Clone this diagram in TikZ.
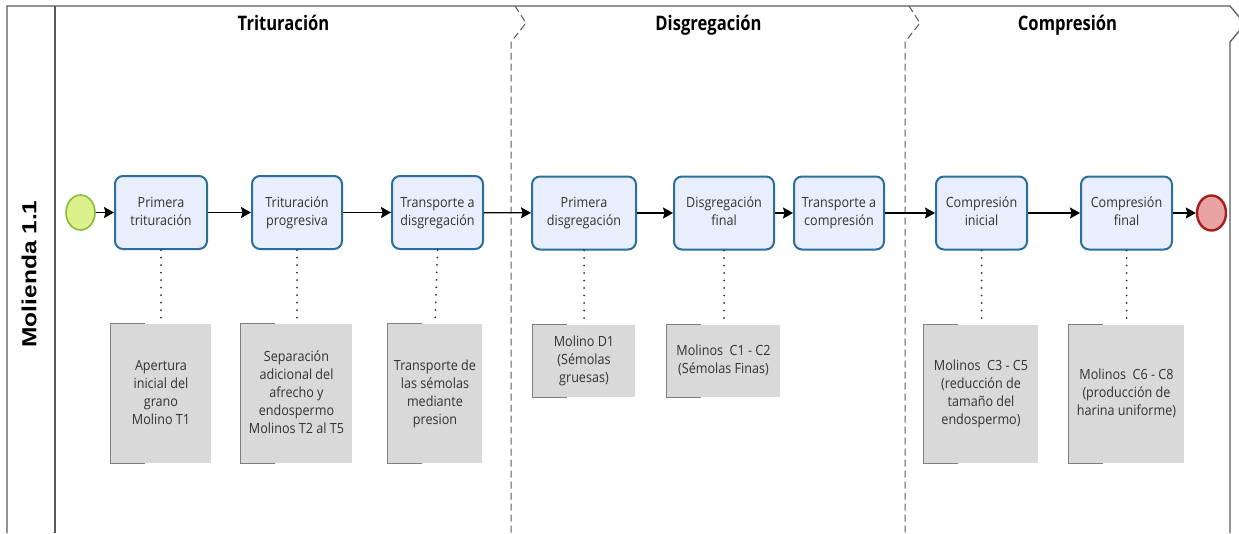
\documentclass[tikz,border=0pt]{standalone}
\usepackage{fontspec}
\usepackage{graphicx}
\setmainfont{Open Sans}
\newfontfamily\lanefont{Liberation Sans}
\usetikzlibrary{arrows.meta,shapes.geometric}

\definecolor{laneline}{HTML}{595959}
\definecolor{taskdraw}{HTML}{2A6E9C}
\definecolor{taskfill}{HTML}{E8EEFB}
\definecolor{annfill}{HTML}{D9D9D9}
\definecolor{annedge}{HTML}{7F7F7F}
\definecolor{startfill}{HTML}{DCF08C}
\definecolor{startdraw}{HTML}{84BD3E}
\definecolor{endfill}{HTML}{EAA3A3}
\definecolor{enddraw}{HTML}{A51D1D}
\definecolor{bodytext}{HTML}{333333}
\definecolor{dotcol}{HTML}{303030}

% condensed, centred multi-line labels
\newcommand\sq[1]{\scalebox{0.9}[1]{\begin{tabular}{@{}c@{}}#1\end{tabular}}}
\newcommand\hd[1]{\scalebox{0.83}[1]{#1}}

\tikzset{
  lanerule/.style={draw=laneline, line width=1.3pt},
  phaserule/.style={draw=laneline, line width=1pt, dash pattern=on 7pt off 4pt},
  task/.style={rectangle, rounded corners=8pt, draw=taskdraw, line width=2pt,
    fill=taskfill, minimum height=73pt, inner sep=0pt, text=bodytext,
    font=\fontsize{14}{18}\selectfont},
  note/.style={rectangle, fill=annfill, inner sep=0pt, text=bodytext,
    font=\fontsize{14}{18}\selectfont},
  phase/.style={font=\fontsize{20}{24}\selectfont\bfseries, text=black, anchor=base},
  flow/.style={draw=black, line width=1.3pt, -{Stealth[length=10pt,width=11pt,inset=1.5pt]}},
  assoc/.style={draw=dotcol, line width=2pt, line cap=round, dash pattern=on 0pt off 7.5pt},
  startev/.style={ellipse, draw=startdraw, fill=startfill, line width=1.6pt,
    minimum width=29pt, minimum height=35pt, inner sep=0pt},
  endev/.style={ellipse, draw=enddraw, fill=endfill, line width=2.4pt,
    minimum width=29pt, minimum height=35pt, inner sep=0pt},
}

\begin{document}
\begin{tikzpicture}[x=1pt,y=-1pt]
\useasboundingbox (0,0) rectangle (1239,533);

% pool and lane frame
\draw[lanerule] (7,533) -- (7,6) -- (1230,6) -- (1245,24) -- (1230,42) -- (1230,533);
\draw[lanerule] (55,6) -- (55,533);

% phase separators
\draw[phaserule] (515,6) -- (526,23) -- (511,42) -- (511,533);
\draw[phaserule] (909,6) -- (920,23) -- (905,42) -- (905,533);

% lane title
\node[rotate=90, font=\lanefont\bfseries\fontsize{24.5}{28}\selectfont] (lane) at (29,274)
  {\scalebox{1}[0.83]{Molienda 1.1}};

% phase titles
\node[phase] (h1) at (283.5,30.5) {\hd{Trituración}};
\node[phase] (h2) at (708.5,30.5) {\hd{Disgregación}};
\node[phase] (h3) at (1067.5,30.5) {\hd{Compresión}};

% events and tasks
\node[startev] (start) at (80.5,212.5) {};
\node[task, minimum width=92pt]  (t1) at (161,212.5)   {\sq{Primera\\trituración}};
\node[task, minimum width=90pt]  (t2) at (297,212.5)   {\sq{Trituración\\progresiva}};
\node[task, minimum width=91pt]  (t3) at (437.5,212.5) {\sq{Transporte a\\disgregación}};
\node[task, minimum width=104pt] (t4) at (584,213)     {\sq{Primera\\disgregación}};
\node[task, minimum width=100pt] (t5) at (724,213)     {\sq{Disgregación\\final}};
\node[task, minimum width=90pt]  (t6) at (839,213)     {\sq{Transporte a\\compresión}};
\node[task, minimum width=91pt]  (t7) at (981.5,213)   {\sq{Compresión\\inicial}};
\node[task, minimum width=91pt]  (t8) at (1126.5,213)  {\sq{Compresión\\final}};
\node[endev] (end) at (1211.5,213) {};

% sequence flow
\draw[flow] (start) -- (t1);
\draw[flow] (t1) -- (t2);
\draw[flow] (t2) -- (t3);
\draw[flow] (t3) -- (t4);
\draw[flow] (t4) -- (t5);
\draw[flow] (t5) -- (t6);
\draw[flow] (t6) -- (t7);
\draw[flow] (t7) -- (t8);
\draw[flow] (t8) -- (end);

% text annotations
\node[note, minimum width=100pt, minimum height=139pt] (a1) at (161,393.5)
  {\sq{Apertura\\inicial del\\grano\\Molino T1}};
\node[note, minimum width=111pt, minimum height=139pt] (a2) at (296.5,393.5)
  {\sq{Separación\\adicional del\\afrecho y\\endospermo\\Molinos T2 al T5}};
\node[note, minimum width=94pt, minimum height=139pt] (a3) at (435,393.5)
  {\sq{Transporte de\\las sémolas\\mediante\\presion}};
\node[note, minimum width=102pt, minimum height=72pt] (a4) at (584,361)
  {\sq{Molino D1\\(Sémolas\\gruesas)}};
\node[note, minimum width=113pt, minimum height=72pt] (a5) at (723.5,361)
  {\sq{Molinos\ \ C1 - C2\\(Sémolas Finas)}};
\node[note, minimum width=114pt, minimum height=138pt] (a6) at (981,394)
  {\sq{Molinos\ \ C3 - C5\\(reducción de\\tamaño del\\endospermo)}};
\node[note, minimum width=115pt, minimum height=138pt] (a7) at (1126.5,394)
  {\sq{Molinos\ \ C6 - C8\\(producción de\\harina uniforme)}};

% annotation brackets
\foreach \a in {a1,a2,a3,a4,a5,a6,a7}{
  \draw[draw=annedge, line width=1.2pt]
    ([xshift=34pt]\a.north west) -- (\a.north west) -- (\a.south west) -- ([xshift=34pt]\a.south west);
}

% associations
\draw[assoc] (t1.south) -- (t1.south |- a1.north);
\draw[assoc] (t2.south) -- (t2.south |- a2.north);
\draw[assoc] (t3.south) -- (a3.north);
\draw[assoc] (t4.south) -- (t4.south |- a4.north);
\draw[assoc] (t5.south) -- (t5.south |- a5.north);
\draw[assoc] (t7.south) -- (t7.south |- a6.north);
\draw[assoc] (t8.south) -- (t8.south |- a7.north);
\end{tikzpicture}
\end{document}
